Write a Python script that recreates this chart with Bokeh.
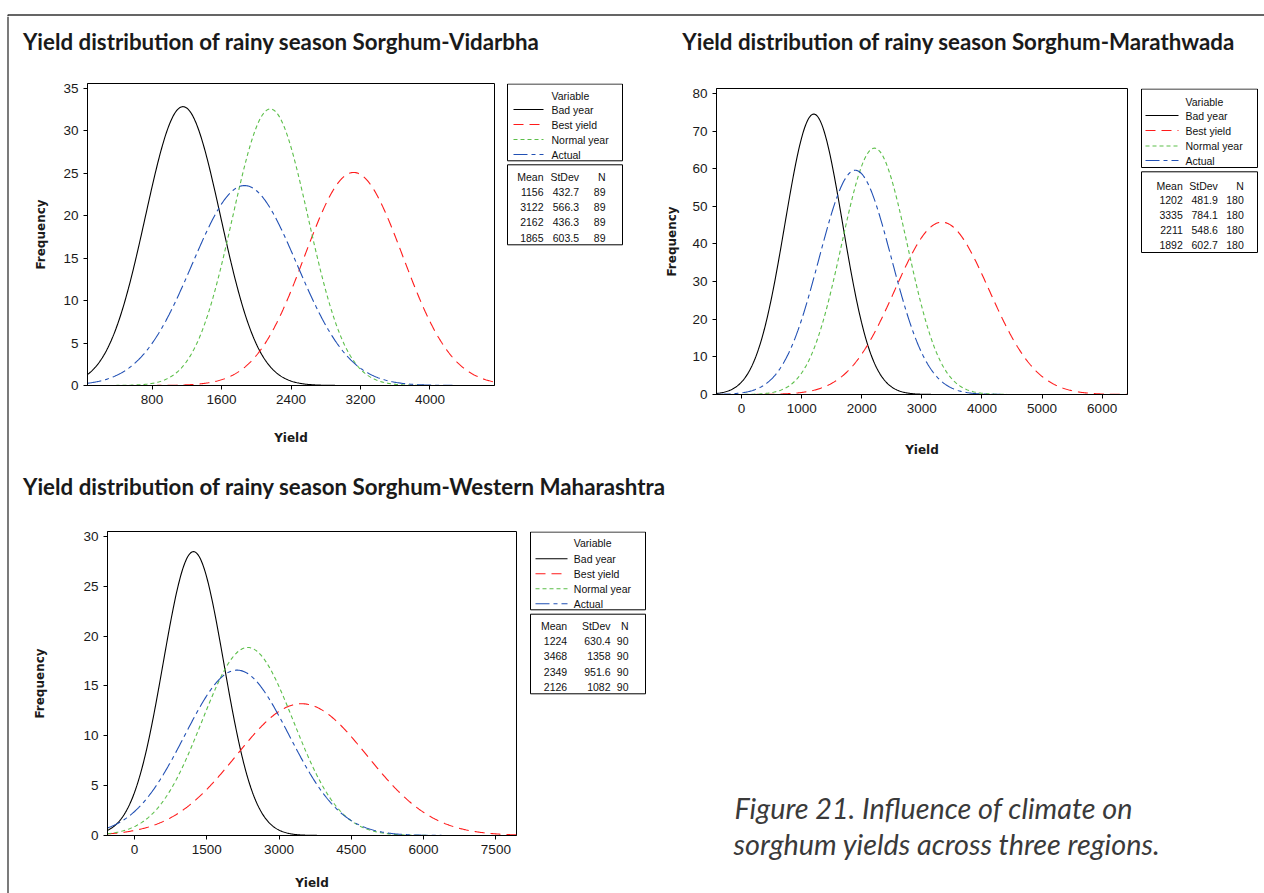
import numpy as np
from bokeh.plotting import figure
from bokeh.layouts import column, row
from bokeh.models import FixedTicker, Range1d
from bokeh.core.properties import value
from bokeh.embed import file_html
from bokeh.resources import INLINE

# ---------------- data ----------------
series = ["Bad year", "Best yield", "Normal year", "Actual"]
series_colors = ["#000000", "#ff1a1a", "#5cbf4a", "#2150b4"]
series_dash = ["solid", "10 6", "4 3", "14 4 4 4"]
stats_header = ["Mean", "StDev", "N"]

vid_title = "Yield distribution of rainy season Sorghum-Vidarbha"
vid_mean = [1156, 3122, 2162, 1865]
vid_sd = [432.7, 566.3, 436.3, 603.5]
vid_n = [89, 89, 89, 89]
vid_bin = 400
vid_xticks = [800, 1600, 2400, 3200, 4000]
vid_yticks = [0, 5, 10, 15, 20, 25, 30, 35]

mar_title = "Yield distribution of rainy season Sorghum-Marathwada"
mar_mean = [1202, 3335, 2211, 1892]
mar_sd = [481.9, 784.1, 548.6, 602.7]
mar_n = [180, 180, 180, 180]
mar_bin = 500
mar_xticks = [0, 1000, 2000, 3000, 4000, 5000, 6000]
mar_yticks = [0, 10, 20, 30, 40, 50, 60, 70, 80]

wm_title = "Yield distribution of rainy season Sorghum-Western Maharashtra"
wm_mean = [1224, 3468, 2349, 2126]
wm_sd = [630.4, 1358, 951.6, 1082]
wm_n = [90, 90, 90, 90]
wm_bin = 500
wm_xticks = [0, 1500, 3000, 4500, 6000, 7500]
wm_yticks = [0, 5, 10, 15, 20, 25, 30]

caption_lines = ["Figure 21. Influence of climate on",
                 "sorghum yields across three regions."]

TICK_FONT = "Liberation Sans"
SMALL_FONT = "Liberation Sans"
LABEL_FONT = "DejaVu Sans"
TITLE_FONT = "Lato"
BORDER = "#333333"


def sd_text(v):
    return f"{v:.0f}" if v >= 1000 else f"{v:.1f}"


def canvas(W, H, x0, y0, top=0, bottom=0, yr=None):
    """A plain drawing surface whose data units are page pixels."""
    p = figure(width=W, height=H, output_backend="svg", toolbar_location=None,
               title=None, x_axis_location=None, y_axis_location=None,
               x_range=Range1d(x0, x0 + W),
               y_range=Range1d(*(yr if yr else (y0 + H, y0))),
               min_border=0, min_border_left=0, min_border_right=0,
               min_border_top=top, min_border_bottom=bottom)
    p.outline_line_color = None
    p.background_fill_color = "white"
    p.border_fill_color = "white"
    p.grid.visible = False
    return p


def plot_panel(cfg, W, H):
    p = figure(width=W, height=H, output_backend="svg", toolbar_location=None,
               title=None, x_range=Range1d(*cfg["xr"]), y_range=Range1d(*cfg["yr"]),
               min_border_left=cfg["mb"][0], min_border_top=cfg["mb"][1],
               min_border_right=cfg["mb"][2], min_border_bottom=cfg["mb"][3])
    p.background_fill_color = "white"
    p.border_fill_color = "white"
    p.outline_line_color = "black"
    p.outline_line_width = 1
    p.xgrid.visible = False
    p.ygrid.visible = False
    for ax, ticks in ((p.xaxis, cfg["xticks"]), (p.yaxis, cfg["yticks"])):
        ax.ticker = FixedTicker(ticks=ticks)
        ax.major_tick_out = 4
        ax.major_tick_in = 0
        ax.minor_tick_out = 0
        ax.minor_tick_in = 0
        ax.axis_line_color = "black"
        ax.major_tick_line_color = "black"
        ax.major_label_text_font = TICK_FONT
        ax.major_label_text_font_size = "13.5px"
        ax.major_label_text_color = "#1a1a1a"
        ax.axis_label_text_font = LABEL_FONT
        ax.axis_label_text_font_style = "bold"
        ax.axis_label_text_font_size = "12px"
        ax.axis_label_text_color = "#1a1a1a"
    p.xaxis.axis_label = "Yield"
    p.yaxis.axis_label = "Frequency"
    p.xaxis.axis_label_standoff = cfg["xlab_standoff"]
    p.yaxis.axis_label_standoff = cfg["ylab_standoff"]

    # fitted normal curves (Mean, StDev, N as printed in the chart's table)
    xs = np.linspace(cfg["xr"][0], cfg["xr"][1], 500)
    for i in range(len(series)):
        m, s, n = cfg["mean"][i], cfg["sd"][i], cfg["n"][i]
        ys = n * cfg["bin"] * np.exp(-0.5 * ((xs - m) / s) ** 2) / (s * np.sqrt(2 * np.pi))
        p.line(xs, ys, line_color=series_colors[i], line_width=1.1,
               line_dash=series_dash[i])
    return p


def draw_boxes(p, cfg):
    L = cfg["leg"]
    p.quad(left=[L["box"][0]], right=[L["box"][2]], top=[L["box"][1]], bottom=[L["box"][3]],
           fill_color="white", line_color="black", line_width=1)
    ry = L["rows"]
    p.text(x=[L["tx"]], y=[ry[0]], text=["Variable"], text_baseline="middle",
           text_font=value(SMALL_FONT), text_font_size="10.5px", text_color="#111111")
    for i, name in enumerate(series):
        p.line([L["lx"][0], L["lx"][1]], [ry[i + 1], ry[i + 1]],
               line_color=series_colors[i], line_dash=series_dash[i], line_width=1.1)
    p.text(x=[L["tx"]] * len(series), y=ry[1:], text=series, text_baseline="middle",
           text_font=value(SMALL_FONT), text_font_size="10.5px", text_color="#111111")
    S = cfg["stats"]
    p.quad(left=[S["box"][0]], right=[S["box"][2]], top=[S["box"][1]], bottom=[S["box"][3]],
           fill_color="white", line_color="black", line_width=1)
    sy = S["rows"]
    cx = S["cols"]
    p.text(x=cx, y=[sy[0]] * 3, text=stats_header, text_align="right",
           text_baseline="middle", text_font=value(SMALL_FONT),
           text_font_size="10.5px", text_color="#111111")
    col_vals = [[str(v) for v in cfg["mean"]],
                [sd_text(v) for v in cfg["sd"]],
                [str(v) for v in cfg["n"]]]
    for j in range(3):
        p.text(x=[cx[j]] * len(series), y=sy[1:], text=col_vals[j], text_align="right",
               text_baseline="middle", text_font=value(SMALL_FONT),
               text_font_size="10.5px", text_color="#111111")


def title_canvas(W, H, x0, y0, title, tx, ty):
    p = canvas(W, H, x0, y0)
    p.text(x=[tx], y=[ty], text=[title], text_baseline="middle",
           text_font=value(TITLE_FONT), text_font_style="bold",
           text_font_size="22.3px", text_color="#1a1a1a")
    return p


# ---------------- panel configurations (page-pixel geometry) ----------------
cfg1 = dict(xr=(56, 4744), yr=(0, 35.55), xticks=vid_xticks, yticks=vid_yticks,
            mean=vid_mean, sd=vid_sd, n=vid_n, bin=vid_bin,
            xlab_standoff=24, ylab_standoff=12,
            leg=dict(box=(507, 83.5, 622, 160.3), rows=[95, 109, 124, 139, 154],
                     tx=551, lx=(513, 543)),
            stats=dict(box=(507, 164.3, 622, 244.3), rows=[176, 191, 206, 221.5, 237],
                       cols=[543, 578.5, 605]))
cfg2 = dict(xr=(-417, 6422), yr=(0, 81.3), xticks=mar_xticks, yticks=mar_yticks,
            mean=mar_mean, sd=mar_sd, n=mar_n, bin=mar_bin,
            xlab_standoff=27, ylab_standoff=10,
            leg=dict(box=(1141, 88.5, 1257, 167), rows=[101.7, 115, 130, 145.5, 160],
                     tx=1185, lx=(1145, 1178)),
            stats=dict(box=(1141, 171.3, 1257, 252), rows=[185, 199, 214.3, 229, 244.3],
                       cols=[1182.3, 1217.3, 1243.3]))
cfg3 = dict(xr=(-561, 7928), yr=(0, 30.5), xticks=wm_xticks, yticks=wm_yticks,
            mean=wm_mean, sd=wm_sd, n=wm_n, bin=wm_bin,
            xlab_standoff=19, ylab_standoff=33,
            leg=dict(box=(530, 531.5, 645, 609.3), rows=[542.3, 558.3, 573.3, 588.3, 603.3],
                     tx=573.3, lx=(535, 567)),
            stats=dict(box=(530, 613.7, 645, 693.3), rows=[625, 640, 655.7, 671.7, 686.7],
                       cols=[566.7, 610, 628]))

# ---- page frame: top strip (y 0..16) and left strip (x 0..9)
TOP = canvas(1264, 16, 0, 0)
TOP.line([1264, 7.5, 7.5], [14.5, 14.5, 16], line_color=BORDER, line_width=1.3)
LB = canvas(9, 877, 0, 16)
LB.line([7.5, 7.5], [16, 893], line_color=BORDER, line_width=1.3)

# ---- quadrant 1 (x 9..648, y 16..460)
T1 = title_canvas(639, 49, 9, 16, vid_title, 22.4, 41)
cfg1["mb"] = (78, 18, 2, 75)
P1 = plot_panel(cfg1, 487, 395)
S1 = canvas(152, 395, 496, 65, top=18, bottom=75, yr=(385, 83))
draw_boxes(S1, cfg1)
Q1 = column(T1, row(P1, S1))

# ---- quadrant 2 (x 648..1264, y 16..460)
T2 = title_canvas(616, 49, 648, 16, mar_title, 681.8, 41)
cfg2["mb"] = (68, 23, 2, 66)
P2 = plot_panel(cfg2, 481, 395)
S2 = canvas(135, 395, 1129, 65, top=23, bottom=66, yr=(394, 88))
draw_boxes(S2, cfg2)
Q2 = column(T2, row(P2, S2))

# ---- bottom half (x 9..1264, y 460..893)
T3 = title_canvas(1255, 60, 9, 460, wm_title, 22.5, 485.5)
cfg3["mb"] = (98, 11, 2, 58)
P3 = plot_panel(cfg3, 509, 373)
S3 = canvas(130, 373, 518, 520, top=11, bottom=58, yr=(835, 531))
draw_boxes(S3, cfg3)
Q4 = canvas(616, 373, 648, 520)
Q4.text(x=[734, 733], y=[807, 843], text=caption_lines, text_baseline="middle",
        text_font=value("Lato"), text_font_style="italic", text_font_size="28.8px",
        text_color="#3a3a3a")
BOTTOM = column(T3, row(row(P3, S3), Q4))

layout = column(TOP, row(LB, column(row(Q1, Q2), BOTTOM)))
open("out.html", "w").write(file_html(layout, INLINE))
